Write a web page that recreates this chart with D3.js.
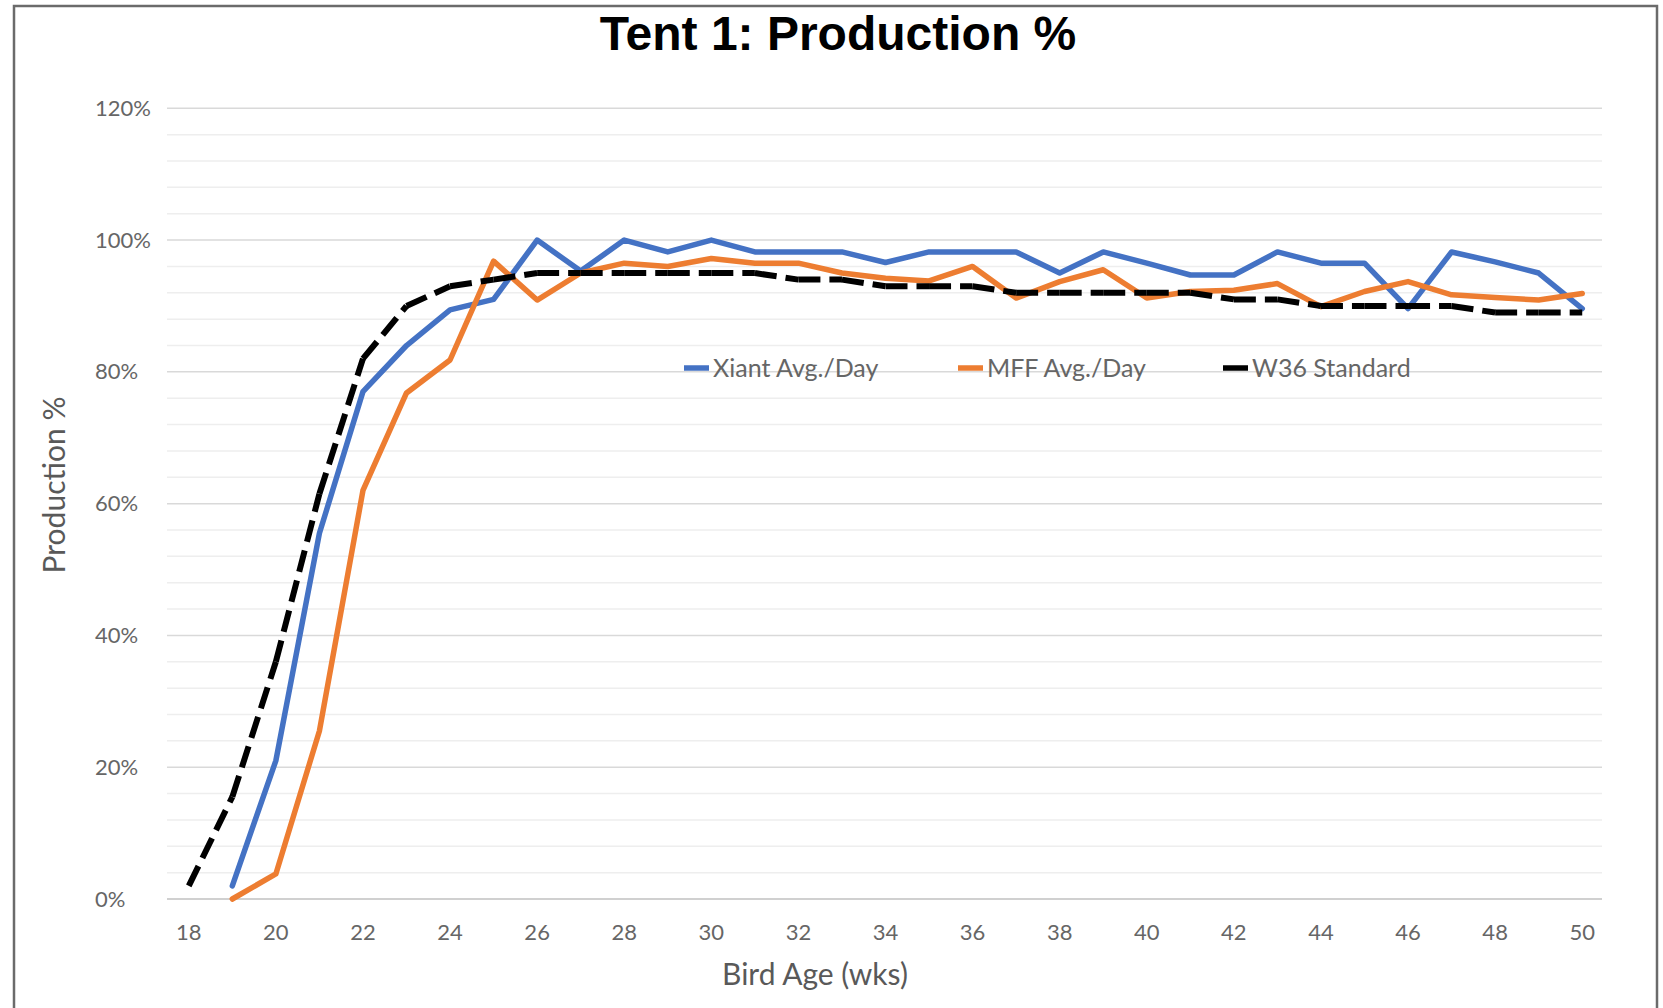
<!DOCTYPE html>
<html>
<head>
<meta charset="utf-8">
<script src="https://cdn.jsdelivr.net/npm/d3@7"></script>
<style>
  html, body { margin: 0; padding: 0; background: #fff; }
  svg { display: block; }
</style>
</head>
<body>
<svg id="chart" width="1663" height="1008"></svg>
<script>
// ---- data ----
const weeks = [18,19,20,21,22,23,24,25,26,27,28,29,30,31,32,33,34,35,36,37,38,39,40,41,42,43,44,45,46,47,48,49,50];
const xTickLabels = [18,20,22,24,26,28,30,32,34,36,38,40,42,44,46,48,50];
const yTickLabels = [0,20,40,60,80,100,120];
const xiant = [null,2,21,55.5,77,84,89.4,91,100,95.3,100,98.2,100,98.2,98.2,98.2,96.6,98.2,98.2,98.2,95,98.2,96.5,94.7,94.7,98.2,96.5,96.5,89.6,98.2,96.7,95,89.6];
const mff   = [null,0,3.8,25.5,62,76.8,81.8,96.8,90.9,95,96.5,96,97.2,96.5,96.5,95,94.2,93.8,96,91.2,93.7,95.5,91.2,92.2,92.4,93.4,89.9,92.2,93.7,91.7,91.3,90.9,91.9];
const w36   = [2,15.5,36,61.5,82,90,93,94,95,95,95,95,95,95,94,94,93,93,93,92,92,92,92,92,91,91,90,90,90,90,89,89,89];
const seriesNames = ["Xiant Avg./Day", "MFF Avg./Day", "W36 Standard"];
const seriesColors = ["#4472C4", "#ED7D31", "#000000"];

const svg = d3.select("#chart");
const FONT = "Lato, 'Open Sans', sans-serif";

// frame
svg.append("path")
  .attr("d", "M14,1008 L14,6 L1657,6 L1657,1008")
  .attr("fill", "none").attr("stroke", "#6b6b6b").attr("stroke-width", 2.5);

// scales
const x = d3.scaleBand().domain(weeks).range([167, 1604]);
const cx = w => x(w) + x.bandwidth() / 2;
const y = d3.scaleLinear().domain([0, 120]).range([899, 108.3]);

// gridlines (minor every 4%, major every 20%)
const minor = d3.range(0, 121, 4);
svg.append("g").selectAll("line").data(minor).join("line")
  .attr("x1", 167).attr("x2", 1602)
  .attr("y1", d => y(d)).attr("y2", d => y(d))
  .attr("stroke", d => d % 20 === 0 ? "#d9d9d9" : "#eeeeee")
  .attr("stroke-width", 1.5);

// x axis line
svg.append("line").attr("x1", 167).attr("x2", 1602)
  .attr("y1", y(0)).attr("y2", y(0))
  .attr("stroke", "#d0d0d0").attr("stroke-width", 2);

// y axis tick labels (left aligned as in reference)
const yAxis = d3.axisLeft(y).tickValues(yTickLabels).tickSize(0).tickPadding(0)
  .tickFormat(d => d + "%");
const gy = svg.append("g").attr("transform", "translate(95,0)").call(yAxis);
gy.select(".domain").remove();
gy.selectAll("text").attr("text-anchor", "start").attr("x", 0)
  .attr("font-family", FONT).attr("font-size", 22).attr("fill", "#666");

// x axis tick labels
const xAxis = d3.axisBottom(x).tickValues(xTickLabels).tickSize(0).tickPadding(0);
const gx = svg.append("g").attr("transform", "translate(0," + (y(0) + 25) + ")").call(xAxis);
gx.select(".domain").remove();
gx.selectAll("text").attr("font-family", FONT).attr("font-size", 22).attr("fill", "#666");

// lines
const line = d3.line().defined(d => d.v !== null).x(d => cx(d.w)).y(d => y(d.v));
function pts(arr) { return weeks.map((w, i) => ({ w: w, v: arr[i] })); }

[xiant, mff].forEach((arr, k) => {
  svg.append("path").datum(pts(arr))
    .attr("d", line)
    .attr("fill", "none").attr("stroke", seriesColors[k])
    .attr("stroke-width", 5.5).attr("stroke-linejoin", "round").attr("stroke-linecap", "round");
});

// dashed standard: dash pattern restarts at each point
const stdPts = pts(w36);
const segs = d3.pairs(stdPts);
svg.append("g").selectAll("path").data(segs).join("path")
  .attr("d", d => line(d))
  .attr("fill", "none").attr("stroke", "#000")
  .attr("stroke-width", 6).attr("stroke-dasharray", "22,9");

// legend
const legX = [684, 958, 1223];
const lg = svg.append("g").selectAll("g").data(seriesNames).join("g")
  .attr("transform", (d, i) => "translate(" + legX[i] + ",368)");
lg.append("line").attr("x1", 0).attr("x2", 25).attr("y1", 0).attr("y2", 0)
  .attr("stroke", (d, i) => seriesColors[i]).attr("stroke-width", 5.5);
lg.append("text").attr("x", 29).attr("y", 0).attr("dy", "0.35em")
  .attr("font-family", FONT).attr("font-size", 25).attr("fill", "#666")
  .text(d => d);

// title
svg.append("text").attr("x", 838).attr("y", 50).attr("text-anchor", "middle")
  .attr("font-family", "'Liberation Sans', Arial, sans-serif").attr("font-weight", "bold")
  .attr("font-size", 48).attr("fill", "#000").text("Tent 1: Production %");

// axis titles
svg.append("text").attr("x", 815).attr("y", 985).attr("text-anchor", "middle")
  .attr("font-family", FONT).attr("font-size", 30).attr("fill", "#595959")
  .text("Bird Age (wks)");
svg.append("text").attr("transform", "translate(65,485) rotate(-90)").attr("text-anchor", "middle")
  .attr("font-family", FONT).attr("font-size", 30).attr("fill", "#595959")
  .text("Production %");
</script>
</body>
</html>
